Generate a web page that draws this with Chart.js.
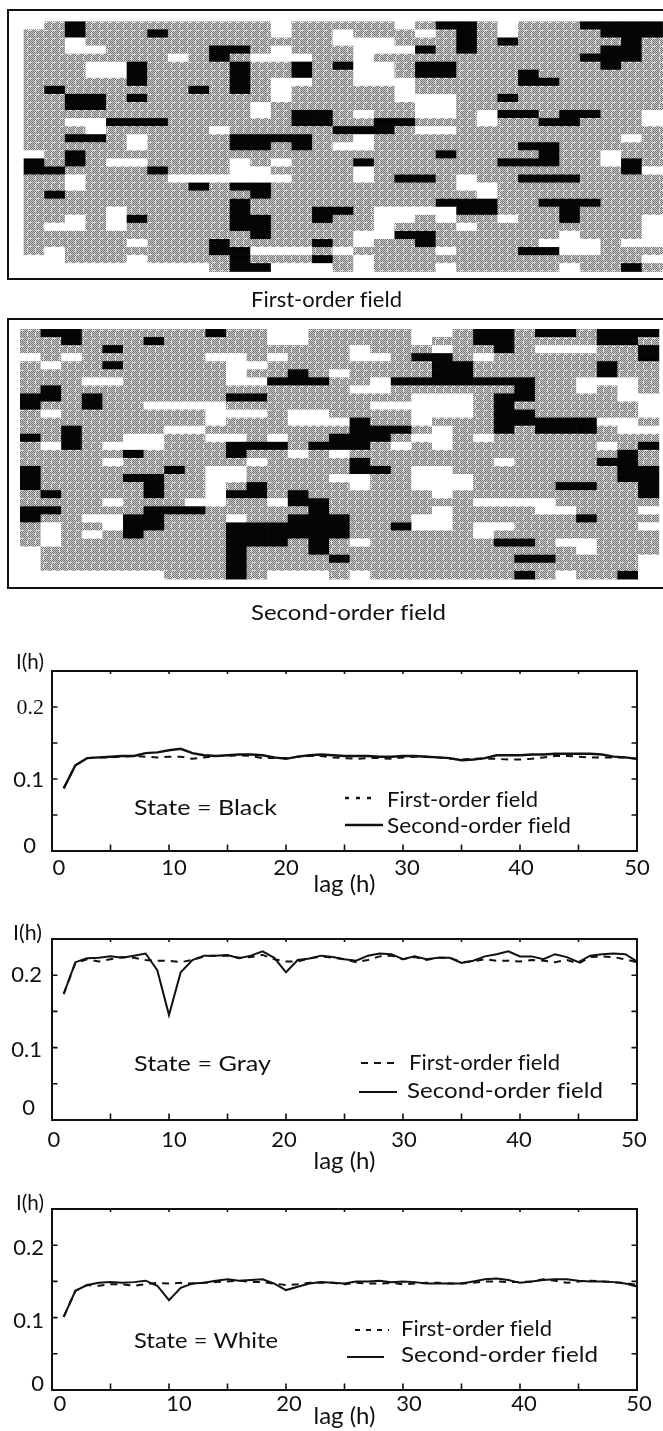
<!DOCTYPE html>
<html><head><meta charset="utf-8">
<style>html,body{margin:0;padding:0;background:#fff;width:663px;height:1431px;overflow:hidden}canvas{position:absolute;left:0}</style>
<script src="https://cdn.jsdelivr.net/npm/chart.js@4"></script>
</head><body>
<canvas id="f1" width="663" height="320" style="top:0"></canvas>
<canvas id="f2" width="663" height="340" style="top:300px"></canvas>
<canvas id="c1" width="663" height="260" style="top:640px"></canvas>
<canvas id="c2" width="663" height="277" style="top:900px"></canvas>
<canvas id="c3" width="663" height="254" style="top:1177px"></canvas>
<script>
const FONT = 'Lato';
const lags = [1,2,3,4,5,6,7,8,9,10,11,12,13,14,15,16,17,18,19,20,21,22,23,24,25,26,27,28,29,30,31,32,33,34,35,36,37,38,39,40,41,42,43,44,45,46,47,48,49,50];

const blackFirstOrder = [[2,20,21,27,28,29,30],[2,6,21,28,29,30],[21,23,29],[9,10,19,21,28,29],[9,27,28,29],[5,10,13,15,19,20,28],[5,10,13,19,20,24],[5,10,24,25],[1,8,10],[2,3,5,23],[2,3],[13,14,23,24,26,27],[4,5,6,13,14,17,18,25,26],[15,16,17],[2,3,10,11,12,13],[10,11,13,24,25],[2,20,25],[0,2,16,23,24,25,29],[0,1,6,29],[18,19,24,25,26],[8,10,11],[1,11],[10,20,21,22,25,26,27],[10,14,15,21,22,26],[5,10,11,14,26],[10,11],[11,18,19],[9,14,19],[9,10,24,25],[10,14],[10,11,29]];
const whiteFirstOrder = [[0,12,18,23],[12,15,19,23],[2,15,16,17],[2,3,12,16,17,18],[7,11,12,13,16],[3,4,16,17],[3,4,16,17],[12,13,16,17,18],[12,18],[12,18,19,20],[11,19,20],[11,16,19,20,22,30],[2,3,22,30],[3,9,19,20],[5,16,29],[5,15,16],[0,28],[4,5,10,12,28],[10,11,16,30],[2,7,8,9,10,11,12,16,21],[2,21,22],[22],[],[4,17,18,19,20],[2,4,17,18,20,23,30],[1,2,4,17,21,30],[16,17,26,30],[5,16,25,26,27,29,30],[1,11,12,13,15,20,26,27],[0,1,5,16,30],[0,1,2,3,4,5,6,7,8,12,13,14,16,20,26]];

const blackSecondOrder = [[1,2,9,22,23,25,26,28,29,30],[2,6,22,23,28,29],[4,23,30],[19,20,30],[4,20,21,28],[13,20,21,28],[12,13,14,18,19,20,21,22,23,24],[1,24],[0,1,3,10,11,23,24],[0,3,23],[23,24],[16,23,24,25,26,27],[2,16,17,18,23,25,26,27],[0,2,15,16,17],[2,10,11,12,14,15,16,30],[5,10,29],[16,28,29],[0,7,16,17,29,30],[0,5,6,29,30],[0,6,11,26,27,30],[1,6,10,11,13,30],[13,14],[0,1,6,7,8,14],[0,5,6,13,14,15,27],[5,6,10,11,12,13,14,15,18],[5,10,11,12,13,14,15],[10,11,12,14,23,24],[10,14],[10,15,24,25],[10],[10,24,29]];
const whiteSecondOrder = [[12,13,19,20],[12,13,19],[16,20,25,26,27],[0,2,9,10,12,16,17,22],[1,10,11],[10,15],[3,4,10,11,17,27,28,29],[16,17,27,29],[19,20,21,29,30],[6,7,8,9,17,18,19,20,21,30],[1,9,10,11,13,14,19,20,21,30],[9,13,14,15,19,28,29],[7,8,20,29,30],[5,6,9,10,12,19,20,22],[1,4,5,6,18,20,28],[13,15],[4,11,23],[9,10,19,20],[9,10,15,16,19,20,21],[9,16,19,20,21],[9,20],[4,8,9,12,22,23,24,25],[20,25,26,30],[3,4,10,19,20],[1,4,19,20,22,23,30],[1,3,22],[1,16,26,27],[0,27],[0,30],[0,30],[0,1,2,3,4,5,6,12,13,14,16,26,30]];

const blackFirst = [.087,.119,.129,.130,.130,.131,.132,.131,.130,.131,.131,.128,.130,.132,.132,.133,.132,.129,.129,.129,.131,.132,.132,.130,.129,.128,.129,.129,.128,.130,.131,.131,.130,.128,.127,.128,.128,.128,.127,.127,.128,.130,.132,.132,.131,.130,.130,.130,.130,.128];
const blackSecond = [.087,.119,.129,.130,.131,.132,.132,.136,.137,.140,.142,.136,.133,.132,.133,.134,.134,.133,.130,.128,.131,.133,.134,.133,.132,.132,.132,.131,.131,.132,.132,.131,.130,.129,.126,.127,.129,.133,.133,.133,.134,.134,.135,.135,.135,.135,.134,.131,.130,.128];
const grayFirst = [.174,.217,.222,.219,.222,.225,.224,.221,.220,.220,.218,.221,.226,.227,.227,.224,.225,.228,.222,.219,.219,.223,.226,.224,.222,.218,.221,.226,.227,.222,.225,.221,.224,.224,.218,.219,.222,.220,.220,.219,.221,.220,.218,.221,.216,.225,.226,.225,.222,.218];
const graySecond = [.174,.218,.2235,.224,.226,.224,.227,.230,.207,.145,.204,.221,.227,.227,.228,.2235,.227,.233,.224,.204,.221,.223,.227,.225,.222,.220,.227,.230,.229,.222,.226,.222,.224,.224,.217,.220,.226,.229,.233,.226,.226,.222,.229,.225,.218,.227,.229,.230,.229,.219];
const whiteFirst = [.101,.137,.145,.144,.146,.146,.144,.146,.148,.147,.148,.147,.148,.149,.150,.151,.149,.149,.147,.145,.146,.148,.148,.148,.146,.148,.147,.147,.148,.146,.147,.148,.148,.147,.147,.148,.150,.150,.149,.149,.150,.153,.151,.148,.150,.151,.150,.149,.148,.145];
const whiteSecond = [.101,.137,.145,.148,.149,.148,.149,.151,.144,.124,.141,.147,.148,.151,.153,.151,.152,.153,.147,.138,.1425,.147,.149,.148,.147,.150,.150,.151,.149,.150,.149,.147,.147,.147,.147,.150,.153,.154,.152,.148,.150,.152,.153,.153,.151,.150,.150,.149,.147,.143];

Chart.defaults.animation = false;
Chart.defaults.font.family = FONT;
Chart.defaults.color = '#111';

// halftone texture for the gray state
function halftone(){
  const t = document.createElement('canvas'); t.width = 8; t.height = 8;
  const g = t.getContext('2d');
  for (let y=0;y<8;y++) for (let x=0;x<8;x++){
    let v = ((x+y)%2===0) ? 115 : 205;
    if ((x===3 && y<4) || (y===6 && x>3)) v = 225;
    g.fillStyle = `rgb(${v},${v},${v})`; g.fillRect(x,y,1,1);
  }
  return g.createPattern(t,'repeat');
}
const grayFill = halftone();

const annotate = {
  id:'annotate',
  beforeDraw(chart, args, o){
    if (!o.shift) return;
    for (const axis of ['x','y']){
      const items = chart.scales[axis].getLabelItems();
      for (const it of items){
        const d = o.shift[axis] && o.shift[axis][it.label];
        if (d){ it.options.translation[0]+=d[0]; it.options.translation[1]+=d[1]; }
      }
    }
  },
  afterDraw(chart, args, o){
    const c = chart.ctx, a = chart.chartArea, top = o.top||0;
    c.save();
    c.strokeStyle = '#111'; c.lineWidth = 2; c.lineCap='butt';
    c.beginPath();
    c.moveTo(a.left,a.bottom); c.lineTo(a.right+(o.open?0:1),a.bottom);
    c.moveTo(a.left,a.top-1); c.lineTo(a.left,a.bottom+1);
    c.moveTo(a.left,a.top); c.lineTo(a.right+(o.open?0:1),a.top);
    if(!o.open){ c.moveTo(a.right,a.top); c.lineTo(a.right,a.bottom); }
    c.stroke();
    if (o.ticks){
      c.lineWidth = 1.6;
      c.beginPath();
      for (const t of chart.scales.y.ticks){
        const p = chart.scales.y.getPixelForValue(t.value);
        c.moveTo(a.left,p); c.lineTo(a.left+5.5,p);
        c.moveTo(a.right,p); c.lineTo(a.right-5.5,p);
      }
      for (const t of chart.scales.x.ticks){
        const p = chart.scales.x.getPixelForValue(t.value);
        c.moveTo(p,a.bottom); c.lineTo(p,a.bottom-6.5);
        c.moveTo(p,a.top); c.lineTo(p,a.top+3);
      }
      c.stroke();
    }
    c.fillStyle = '#111'; c.textBaseline='middle'; c.textAlign='left';
    c.font = `22px ${FONT}`;
    c.letterSpacing = '0.01px';
    for (const n of (o.notes||[])){
      const w = c.measureText(n.text).width;
      c.save(); c.translate(n.x, n.y-top); c.scale(n.w/w,1); c.fillText(n.text,0,0); c.restore();
    }
    for (const s of (o.samples||[])){
      c.beginPath(); c.lineWidth = s.lw||2; c.strokeStyle='#111'; c.setLineDash(s.dash||[]);
      c.moveTo(s.x1,s.y-top); c.lineTo(s.x2,s.y-top); c.stroke();
    }
    c.restore();
  }
};

function field(id, black, white, top, frameTop, frameBottom, gridLeft, gridTop, caption){
  const cells = [];
  const cw = 20.6, ch = 8.06;
  for (let r=0;r<31;r++) for (let k=0;k<31;k++){
    const s = black[r].includes(k) ? 'b' : white[r].includes(k) ? 'w' : 'g';
    cells.push({x:k+.5, y:[r,r+1], s});
  }
  const canvas = document.getElementById(id);
  new Chart(canvas,{
    type:'bar',
    data:{datasets:[{label:'state',data:cells,
      backgroundColor:c=> c.raw.s==='b' ? '#050505' : c.raw.s==='w' ? '#ffffff' : grayFill,
      borderWidth:0, barPercentage:1, categoryPercentage:1}]},
    plugins:[annotate],
    options:{responsive:false,
      layout:{autoPadding:false,padding:{left:8,right:0,top:frameTop-top,bottom:canvas.height-(frameBottom-top)}},
      scales:{
        x:{type:'linear',display:false,offset:false,min:(8-gridLeft)/cw,max:(663-gridLeft)/cw},
        y:{type:'linear',display:false,reverse:true,min:(frameTop-gridTop)/ch,max:(frameBottom-gridTop)/ch}
      },
      plugins:{legend:{display:false},tooltip:{enabled:false},annotate:{top,open:true,notes:[caption]}}
    }
  });
}

function lagChart(id, first, second, top, areaTop, areaBottom, labelY, serifTop, notes, samples, lw, xPad, shift){
  const canvas = document.getElementById(id);
  const H = canvas.height, tfs = 24, lh = tfs*1.2;
  new Chart(canvas,{
    type:'line',
    data:{labels:lags,datasets:[
      {label:'First-order field',data:first.map((v,i)=>({x:lags[i],y:v})),borderColor:'#111',borderWidth:2,borderDash:[7,6],pointRadius:0,tension:0},
      {label:'Second-order field',data:second.map((v,i)=>({x:lags[i],y:v})),borderColor:'#111',borderWidth:lw,pointRadius:0,tension:0}
    ]},
    plugins:[annotate],
    options:{responsive:false,
      layout:{autoPadding:false,padding:{left:0,right:663-637,top:areaTop-top,bottom:0}},
      scales:{
        x:{type:'linear',min:0,max:50,afterFit:s=>{s.height=top+H-areaBottom},
           grid:{display:false,drawTicks:false},border:{display:false},
           ticks:{stepSize:5,autoSkip:false,maxRotation:0,padding:xPad,font:{size:22},color:'#111',
                  callback:v=>v%10===0?String(v):''},
           title:{display:true,text:'lag (h)',color:'#111',font:{size:tfs},padding:{top:0,bottom:Math.max(0,top+H-labelY-lh/2)}}},
        y:{type:'linear',min:0,max:.25,afterFit:s=>{s.width=52},
           grid:{display:false,drawTicks:false},border:{display:false},
           ticks:{stepSize:.05,autoSkip:false,padding:8,color:'#111',
                  font:c=>({size:22,family:(serifTop&&c.tick&&Math.abs(c.tick.value-.2)<.001)?'Liberation Serif':FONT}),
                  callback:v=>{const n=Math.round(v*100);return n===0?'0':n===10?'0.1':n===20?'0.2':''}}}
      },
      plugins:{legend:{display:false},tooltip:{enabled:false},annotate:{top,ticks:true,notes,samples,shift}}
    }
  });
}

field('f1',blackFirstOrder,whiteFirstOrder,0,10,279,24,21.7,{text:'First-order field',x:251,y:300,w:151});
field('f2',blackSecondOrder,whiteSecondOrder,300,319,588,20.3,329.3,{text:'Second-order field',x:251,y:613,w:195});

lagChart('c1',blackFirst,blackSecond,640,671,851,884,true,[
  {text:'I(h)',x:16,y:662,w:28},{text:'State = Black',x:134,y:808,w:143},
  {text:'First-order field',x:387,y:800,w:151},{text:'Second-order field',x:387,y:826,w:184}],
  [{x1:345,x2:376,y:798,dash:[4,7],lw:2.4},{x1:345,x2:383,y:825,lw:2.4}],2.4,4,
  {x:{'0':[7,0],'10':[5,0],'30':[4,0],'40':[1,0]},y:{'0':[-8,-5],'0.1':[0,1],'0.2':[0,1]}});
lagChart('c2',grayFirst,graySecond,900,939,1120,1161,false,[
  {text:'I(h)',x:13,y:933,w:29},{text:'State = Gray',x:134,y:1064,w:137},
  {text:'First-order field',x:409,y:1063,w:151},{text:'Second-order field',x:407,y:1091,w:196}],
  [{x1:361,x2:395,y:1063,dash:[7,6],lw:1.8},{x1:359,x2:397,y:1092,lw:1.8}],2,7,
  {x:{'0':[2,0],'10':[5,0],'20':[-2,0],'30':[1,0],'40':[-1,0],'50':[-3,0]},y:{'0':[-9,-12],'0.1':[-2,2],'0.2':[-2,0]}});
lagChart('c3',whiteFirst,whiteSecond,1177,1209,1390,1419,false,[
  {text:'I(h)',x:16,y:1203,w:28},{text:'State = White',x:134,y:1341,w:144},
  {text:'First-order field',x:401,y:1329,w:151},{text:'Second-order field',x:401,y:1355,w:197}],
  [{x1:355,x2:389,y:1330,dash:[5,6],lw:2.2},{x1:347,x2:384,y:1357,lw:1.8}],2,1,
  {x:{'0':[8,0],'10':[10,0],'20':[3,0],'30':[6,0],'40':[4,0],'50':[2,0]},y:{'0':[0,-6],'0.1':[0,3],'0.2':[0,3]}});
</script>
</body></html>
